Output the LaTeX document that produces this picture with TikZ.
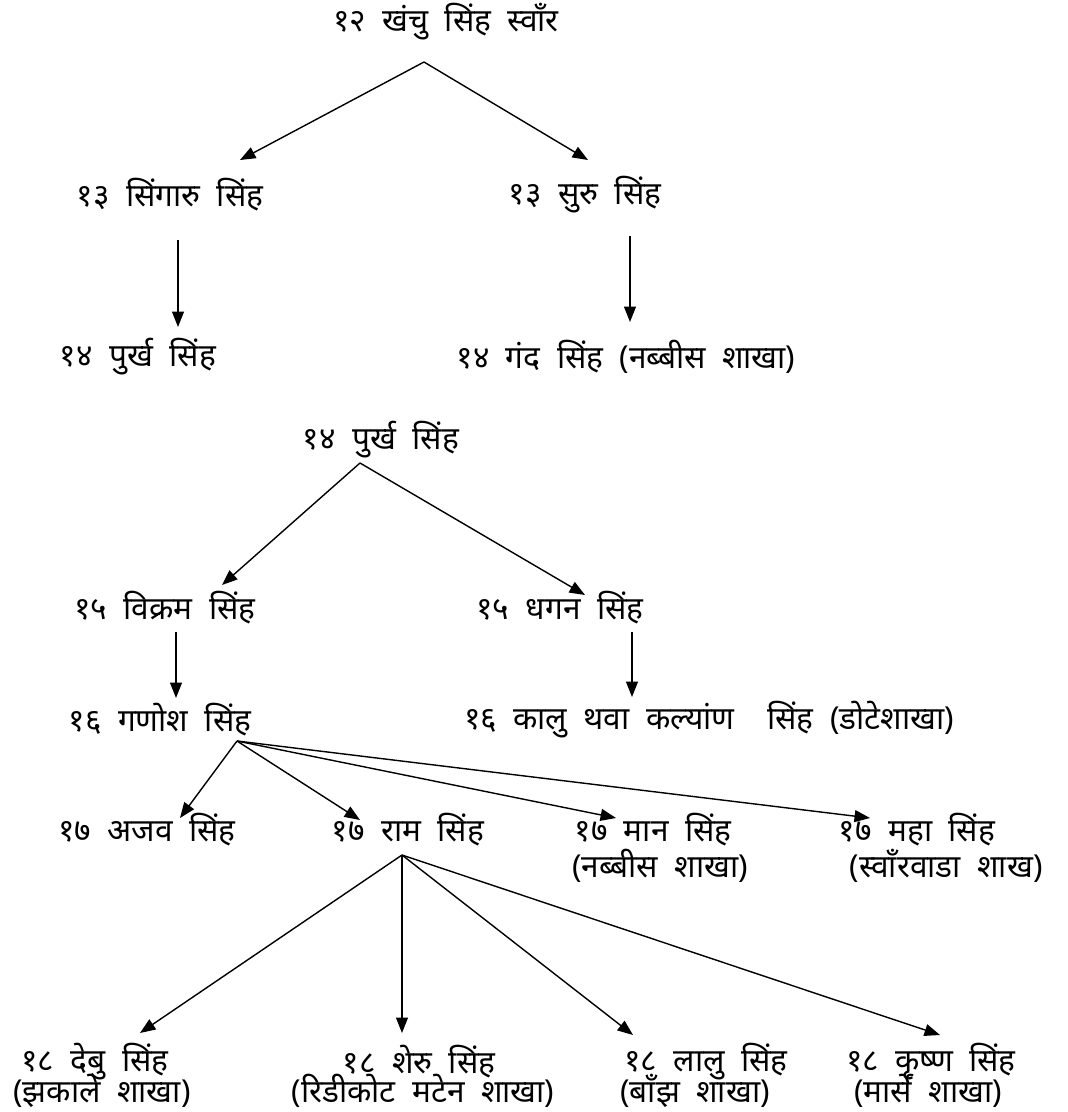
\documentclass[tikz,border=0pt]{standalone}
\usepackage{fontspec}
\usepackage{tikz}
\usetikzlibrary{arrows.meta,calc}
\newfontfamily\devfont[Script=Devanagari,WordSpace=2]{Noto Sans}

\begin{document}
\begin{tikzpicture}[x=0.025cm,y=-0.025cm,
        person/.style={inner sep=0pt,font=\devfont\fontsize{22.5}{26}\selectfont},
        arr/.style={line width=1pt,-{Triangle[length=11pt,width=8.5pt]}}]
        \useasboundingbox (0,0) rectangle (1067,1112);
        \node [person] (n12) at (446,22) {१२ खंचु सिंह स्वाँर};
        \node [person] (n13a) at (170,195) {१३ सिंगारु सिंह};
        \node [person] (n13b) at (585,195) {१३ सुरु सिंह};
        \node [person] (n14a) at (138,357) {१४ पुर्ख सिंह};
        \node [person] (n14b) at (626,357) {१४ गंद सिंह (नब्बीस शाखा)};
        \node [person] (n14c) at (381,440) {१४ पुर्ख सिंह};
        \node [person] (n15a) at (165,608) {१५ विक्रम सिंह};
        \node [person] (n15b) at (560,608) {१५ धगन सिंह};
        \node [person] (n16a) at (160,720) {१६ गणोश सिंह};
        \node [person] (n16b) at (709,720) {१६ कालु थवा कल्यांण\ \ सिंह (डोटेशाखा)};
        \node [person] (n17a) at (147,830) {१७ अजव सिंह};
        \node [person] (n17b) at (408,830) {१७ राम सिंह};
        \node [person] (n17c) at (653,830) {१७ मान सिंह};
        \node [person] (n17cs) at (660,866) {(नब्बीस शाखा)};
        \node [person] (n17d) at (917,830) {१७ महा सिंह};
        \node [person] (n17ds) at (946,866) {(स्वाँरवाडा शाख)};
        \node [person] (n18a) at (95,1062) {१८ देबु सिंह};
        \node [person] (n18as) at (102,1091) {(झकाले शाखा)};
        \node [person] (n18b) at (419,1062) {१८ शेरु सिंह};
        \node [person] (n18bs) at (423,1091) {(रिडीकोट मटेन शाखा)};
        \node [person] (n18c) at (706,1062) {१८ लालु सिंह};
        \node [person] (n18cs) at (695,1091) {(बाँझ शाखा)};
        \node [person] (n18d) at (931,1062) {१८ कृष्ण सिंह};
        \node [person] (n18ds) at (928,1091) {(मार्से शाखा)};
        \draw [arr] ($(n12)+(-22,40)$) -- ($(n13a)+(70,-35)$);
        \draw [arr] ($(n12)+(-22,40)$) -- ($(n13b)+(3,-35)$);
        \draw [arr] ($(n13a)+(8,45)$) -- ($(n14a)+(40,-30)$);
        \draw [arr] ($(n13b)+(45,41)$) -- ($(n14b)+(4,-35)$);
        \draw [arr] ($(n14c)+(-21,23)$) -- ($(n15a)+(57,-23)$);
        \draw [arr] ($(n14c)+(-21,23)$) -- ($(n15b)+(25,-13)$);
        \draw [arr] ($(n15a)+(11,24)$) -- ($(n16a)+(16,-22)$);
        \draw [arr] ($(n15b)+(72,24)$) -- ($(n16b)+(-77,-23)$);
        \draw [arr] ($(n16a)+(77,21)$) -- ($(n17a)+(33,-12)$);
        \draw [arr] ($(n16a)+(77,21)$) -- ($(n17b)+(-48,-10)$);
        \draw [arr] ($(n16a)+(77,21)$) -- ($(n17c)+(-37,-12)$);
        \draw [arr] ($(n16a)+(77,21)$) -- ($(n17d)+(-47,-12)$);
        \draw [arr] ($(n17b)+(-6,25)$) -- ($(n18a)+(45,-29)$);
        \draw [arr] ($(n17b)+(-6,25)$) -- ($(n18b)+(-17,-29)$);
        \draw [arr] ($(n17b)+(-6,25)$) -- ($(n18c)+(-73,-27)$);
        \draw [arr] ($(n17b)+(-6,25)$) -- ($(n18d)+(9,-27)$);
    \end{tikzpicture}
\end{document}
